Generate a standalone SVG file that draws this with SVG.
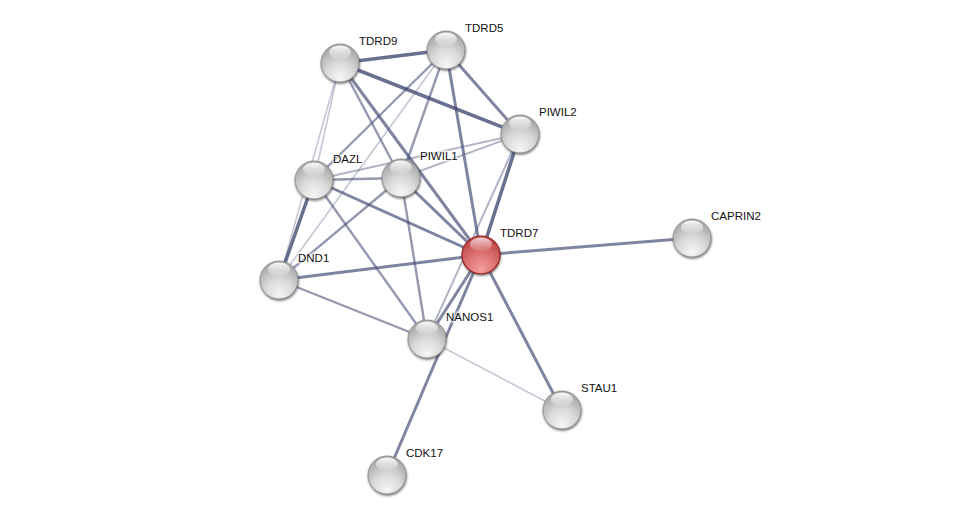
<svg xmlns="http://www.w3.org/2000/svg" width="975" height="520" viewBox="0 0 975 520">
<defs>
  <radialGradient id="gGrey" cx="0.5" cy="0.75" r="0.72" fx="0.5" fy="0.9">
    <stop offset="0" stop-color="#f6f6f6"/>
    <stop offset="0.5" stop-color="#d9d9d9"/>
    <stop offset="1" stop-color="#a4a4a4"/>
  </radialGradient>
  <radialGradient id="gRed" cx="0.5" cy="0.75" r="0.72" fx="0.5" fy="0.9">
    <stop offset="0" stop-color="#f5a0a0"/>
    <stop offset="0.5" stop-color="#de7474"/>
    <stop offset="1" stop-color="#bf4444"/>
  </radialGradient>
  <linearGradient id="gHi" x1="0" y1="0" x2="0" y2="1">
    <stop offset="0" stop-color="#ffffff" stop-opacity="0.95"/>
    <stop offset="1" stop-color="#ffffff" stop-opacity="0.05"/>
  </linearGradient>
  <filter id="blur" x="-30%" y="-30%" width="160%" height="160%">
    <feGaussianBlur stdDeviation="1.2"/>
  </filter>
</defs>
<style>
  .e { stroke: #3d4670; fill: none; stroke-linecap: butt; }
  .t { stroke-width: 3.5; stroke-opacity: 0.78; }
  .m { stroke-width: 3; stroke-opacity: 0.66; }
  .n { stroke-width: 2.4; stroke-opacity: 0.55; }
  .l { stroke-width: 2; stroke-opacity: 0.4; }
  .xl { stroke-width: 1.6; stroke-opacity: 0.3; }
  .sh { fill: #2e2e2e; opacity: 0.6; filter: url(#blur); }
  .body { fill: url(#gGrey); stroke: #8a8a8a; stroke-width: 0.8; }
  .red { fill: url(#gRed); stroke: #9a2020; stroke-width: 1.2; }
  .hi { fill: url(#gHi); }
  .lbl { font-family: "Liberation Sans", Arial, sans-serif; font-size: 11.5px; fill: #111; stroke: #ffffff; stroke-width: 3; stroke-opacity: 0.6; paint-order: stroke; }
</style>
<rect width="975" height="520" fill="#ffffff"/>
<g id="edges">
  <line class="e t" x1="340" y1="63" x2="446" y2="50"/>
  <line class="e t" x1="340" y1="63" x2="520" y2="134"/>
  <line class="e xl" x1="340" y1="63" x2="314" y2="180"/>
  <line class="e xl" x1="340" y1="63" x2="279" y2="280"/>
  <line class="e n" x1="340" y1="63" x2="401" y2="178"/>
  <line class="e m" x1="340" y1="63" x2="481" y2="255"/>
  <line class="e m" x1="446" y1="50" x2="520" y2="134"/>
  <line class="e m" x1="446" y1="50" x2="481" y2="255"/>
  <line class="e n" x1="446" y1="50" x2="314" y2="180"/>
  <line class="e xl" x1="446" y1="50" x2="279" y2="280"/>
  <line class="e n" x1="446" y1="50" x2="401" y2="178"/>
  <line class="e l" x1="520" y1="134" x2="314" y2="180"/>
  <line class="e l" x1="520" y1="134" x2="401" y2="178"/>
  <line class="e t" x1="520" y1="134" x2="481" y2="255"/>
  <line class="e l" x1="520" y1="134" x2="427" y2="339"/>
  <line class="e n" x1="314" y1="180" x2="401" y2="178"/>
  <line class="e t" x1="314" y1="180" x2="279" y2="280"/>
  <line class="e m" x1="314" y1="180" x2="481" y2="255"/>
  <line class="e n" x1="314" y1="180" x2="427" y2="339"/>
  <line class="e n" x1="401" y1="178" x2="279" y2="280"/>
  <line class="e m" x1="401" y1="178" x2="481" y2="255"/>
  <line class="e n" x1="401" y1="178" x2="427" y2="339"/>
  <line class="e m" x1="279" y1="280" x2="481" y2="255"/>
  <line class="e n" x1="279" y1="280" x2="427" y2="339"/>
  <line class="e m" x1="481" y1="255" x2="692" y2="238"/>
  <line class="e m" x1="481" y1="255" x2="562" y2="410"/>
  <line class="e m" x1="481" y1="255" x2="427" y2="339"/>
  <line class="e m" x1="481" y1="255" x2="387" y2="475"/>
  <line class="e xl" x1="427" y1="339" x2="562" y2="410"/>
</g>
<g id="TDRD9">
  <circle class="sh" cx="340.5" cy="64.5" r="19.5"/>
  <circle class="body" cx="340" cy="63" r="19"/>
  <ellipse class="hi" cx="340" cy="52.5" rx="11" ry="7"/>
  <text class="lbl" x="359" y="45">TDRD9</text>
</g>
<g id="TDRD5">
  <circle class="sh" cx="446.5" cy="51.5" r="19.5"/>
  <circle class="body" cx="446" cy="50" r="19"/>
  <ellipse class="hi" cx="446" cy="39.5" rx="11" ry="7"/>
  <text class="lbl" x="465" y="32">TDRD5</text>
</g>
<g id="PIWIL2">
  <circle class="sh" cx="520.5" cy="135.5" r="19.5"/>
  <circle class="body" cx="520" cy="134" r="19"/>
  <ellipse class="hi" cx="520" cy="123.5" rx="11" ry="7"/>
  <text class="lbl" x="539" y="116">PIWIL2</text>
</g>
<g id="DAZL">
  <circle class="sh" cx="314.5" cy="181.5" r="19.5"/>
  <circle class="body" cx="314" cy="180" r="19"/>
  <ellipse class="hi" cx="314" cy="169.5" rx="11" ry="7"/>
  <text class="lbl" x="333" y="163">DAZL</text>
</g>
<g id="PIWIL1">
  <circle class="sh" cx="401.5" cy="179.5" r="19.5"/>
  <circle class="body" cx="401" cy="178" r="19"/>
  <ellipse class="hi" cx="401" cy="167.5" rx="11" ry="7"/>
  <text class="lbl" x="420" y="160">PIWIL1</text>
</g>
<g id="TDRD7">
  <circle class="sh" cx="481.5" cy="256.5" r="19.5"/>
  <circle class="red" cx="481" cy="255" r="19"/>
  <ellipse class="hi" cx="481" cy="244.5" rx="11" ry="7" opacity="0.8"/>
  <text class="lbl" x="500" y="237">TDRD7</text>
</g>
<g id="CAPRIN2">
  <circle class="sh" cx="692.5" cy="239.5" r="19.5"/>
  <circle class="body" cx="692" cy="238" r="19"/>
  <ellipse class="hi" cx="692" cy="227.5" rx="11" ry="7"/>
  <text class="lbl" x="711" y="220">CAPRIN2</text>
</g>
<g id="DND1">
  <circle class="sh" cx="279.5" cy="281.5" r="19.5"/>
  <circle class="body" cx="279" cy="280" r="19"/>
  <ellipse class="hi" cx="279" cy="269.5" rx="11" ry="7"/>
  <text class="lbl" x="298" y="262">DND1</text>
</g>
<g id="NANOS1">
  <circle class="sh" cx="427.5" cy="340.5" r="19.5"/>
  <circle class="body" cx="427" cy="339" r="19"/>
  <ellipse class="hi" cx="427" cy="328.5" rx="11" ry="7"/>
  <text class="lbl" x="446" y="321">NANOS1</text>
</g>
<g id="STAU1">
  <circle class="sh" cx="562.5" cy="411.5" r="19.5"/>
  <circle class="body" cx="562" cy="410" r="19"/>
  <ellipse class="hi" cx="562" cy="399.5" rx="11" ry="7"/>
  <text class="lbl" x="581" y="392">STAU1</text>
</g>
<g id="CDK17">
  <circle class="sh" cx="387.5" cy="476.5" r="19.5"/>
  <circle class="body" cx="387" cy="475" r="19"/>
  <ellipse class="hi" cx="387" cy="464.5" rx="11" ry="7"/>
  <text class="lbl" x="406" y="457">CDK17</text>
</g>
</svg>
